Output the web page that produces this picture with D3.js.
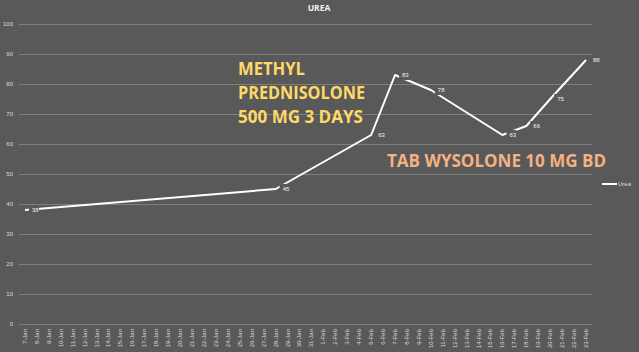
<!DOCTYPE html>
<html>
<head>
<meta charset="utf-8">
<script src="https://cdn.jsdelivr.net/npm/d3@7"></script>
<style>
  html, body { margin: 0; padding: 0; background: #595959; }
  svg { display: block; }
</style>
</head>
<body>
<svg id="chart" width="639" height="352"></svg>
<script>
const categories = [
  "7-Jan","8-Jan","9-Jan","10-Jan","11-Jan","12-Jan","13-Jan","14-Jan","15-Jan","16-Jan",
  "17-Jan","18-Jan","19-Jan","20-Jan","21-Jan","22-Jan","23-Jan","24-Jan","25-Jan","26-Jan",
  "27-Jan","28-Jan","29-Jan","30-Jan","31-Jan","1-Feb","2-Feb","3-Feb","4-Feb","5-Feb",
  "6-Feb","7-Feb","8-Feb","9-Feb","10-Feb","11-Feb","12-Feb","13-Feb","14-Feb","15-Feb",
  "16-Feb","17-Feb","18-Feb","19-Feb","20-Feb","21-Feb","22-Feb","23-Feb"
];
const pointDates = ["7-Jan","28-Jan","5-Feb","7-Feb","10-Feb","16-Feb","18-Feb","20-Feb","23-Feb"];
const ureaValues = [38, 45, 63, 83, 78, 63, 66, 75, 88];
const yTicks = [0,10,20,30,40,50,60,70,80,90,100];
const titleText = "UREA";
const seriesName = "Urea";
const note1Lines = ["METHYL", "PREDNISOLONE", "500 MG 3 DAYS"];
const note2Text = "TAB WYSOLONE 10 MG BD";

const BG = "#595959";
const svg = d3.select("#chart");
svg.append("rect").attr("width", 639).attr("height", 352).attr("fill", BG);

const x = d3.scaleBand().domain(categories).range([19, 592]).padding(0);
const y = d3.scaleLinear().domain([0, 100]).range([324, 24]);
const cx = d => x(d) + x.bandwidth() / 2;

// gridlines
svg.append("g").selectAll("line").data(yTicks).join("line")
  .attr("x1", 19).attr("x2", 592)
  .attr("y1", d => Math.round(y(d)) + 0.5).attr("y2", d => Math.round(y(d)) + 0.5)
  .attr("stroke", "#7f7f7f").attr("stroke-width", 1);

// y axis labels
const yAxis = d3.axisLeft(y).tickValues(yTicks).tickSize(0).tickPadding(0);
const yg = svg.append("g").attr("transform", "translate(13,0)").call(yAxis);
yg.select(".domain").remove();
yg.selectAll("text").attr("fill", "#d9d9d9").attr("font-family", "Liberation Sans, Arial, sans-serif")
  .attr("font-size", 6);

// x axis labels
const xAxis = d3.axisBottom(x).tickSize(0).tickPadding(0);
const xg = svg.append("g").attr("transform", "translate(0,329)").call(xAxis);
xg.select(".domain").remove();
xg.selectAll("text")
  .attr("fill", "#d9d9d9").attr("font-family", "Liberation Sans, Arial, sans-serif")
  .attr("font-size", 6)
  .attr("text-anchor", "end")
  .attr("dy", "0.32em").attr("y", 0)
  .attr("transform", "rotate(-90)")
  .attr("x", 0);

// title
svg.append("text").attr("x", 319).attr("y", 11).attr("text-anchor", "middle")
  .attr("fill", "#f2f2f2").attr("font-family", "Open Sans, Liberation Sans, sans-serif")
  .attr("font-weight", "bold").attr("font-size", 8.5).text(titleText);

// line
const pts = pointDates.map((d, i) => ({ d, v: ureaValues[i] }));
const line = d3.line().x(p => cx(p.d)).y(p => y(p.v));
svg.append("path").datum(pts).attr("d", line)
  .attr("fill", "none").attr("stroke", "#ffffff").attr("stroke-width", 2)
  .attr("stroke-linejoin", "round");

// data labels with background fill
const lg = svg.append("g").selectAll("g").data(pts).join("g")
  .attr("transform", p => `translate(${cx(p.d) + 4},${y(p.v)})`);
lg.append("rect").attr("x", 0).attr("y", -5).attr("width", 10).attr("height", 10).attr("fill", BG);
lg.append("text").attr("x", 3).attr("y", 0).attr("dy", "0.35em")
  .attr("fill", "#f2f2f2").attr("font-family", "Liberation Sans, Arial, sans-serif")
  .attr("font-size", 6).text(p => p.v);

// annotations
const n1 = svg.append("g");
note1Lines.forEach((t, i) => {
  const widths = [67, 127, 125];
  n1.append("text").attr("x", 238).attr("y", 75 + i * 24)
    .attr("fill", "#ffd966").attr("font-family", "Open Sans, Liberation Sans, sans-serif")
    .attr("font-weight", "bold").attr("font-size", 17)
    .attr("textLength", widths[i]).attr("lengthAdjust", "spacingAndGlyphs")
    .text(t);
});
svg.append("text").attr("x", 387).attr("y", 167)
  .attr("fill", "#f4b183").attr("font-family", "Open Sans, Liberation Sans, sans-serif")
  .attr("font-weight", "bold").attr("font-size", 17)
  .attr("textLength", 219).attr("lengthAdjust", "spacingAndGlyphs")
  .text(note2Text);

// legend
svg.append("line").attr("x1", 602).attr("x2", 617).attr("y1", 184).attr("y2", 184)
  .attr("stroke", "#ffffff").attr("stroke-width", 2);
svg.append("text").attr("x", 618).attr("y", 184).attr("dy", "0.35em")
  .attr("fill", "#d9d9d9").attr("font-family", "Liberation Sans, Arial, sans-serif")
  .attr("font-size", 6).text(seriesName);
</script>
</body>
</html>
